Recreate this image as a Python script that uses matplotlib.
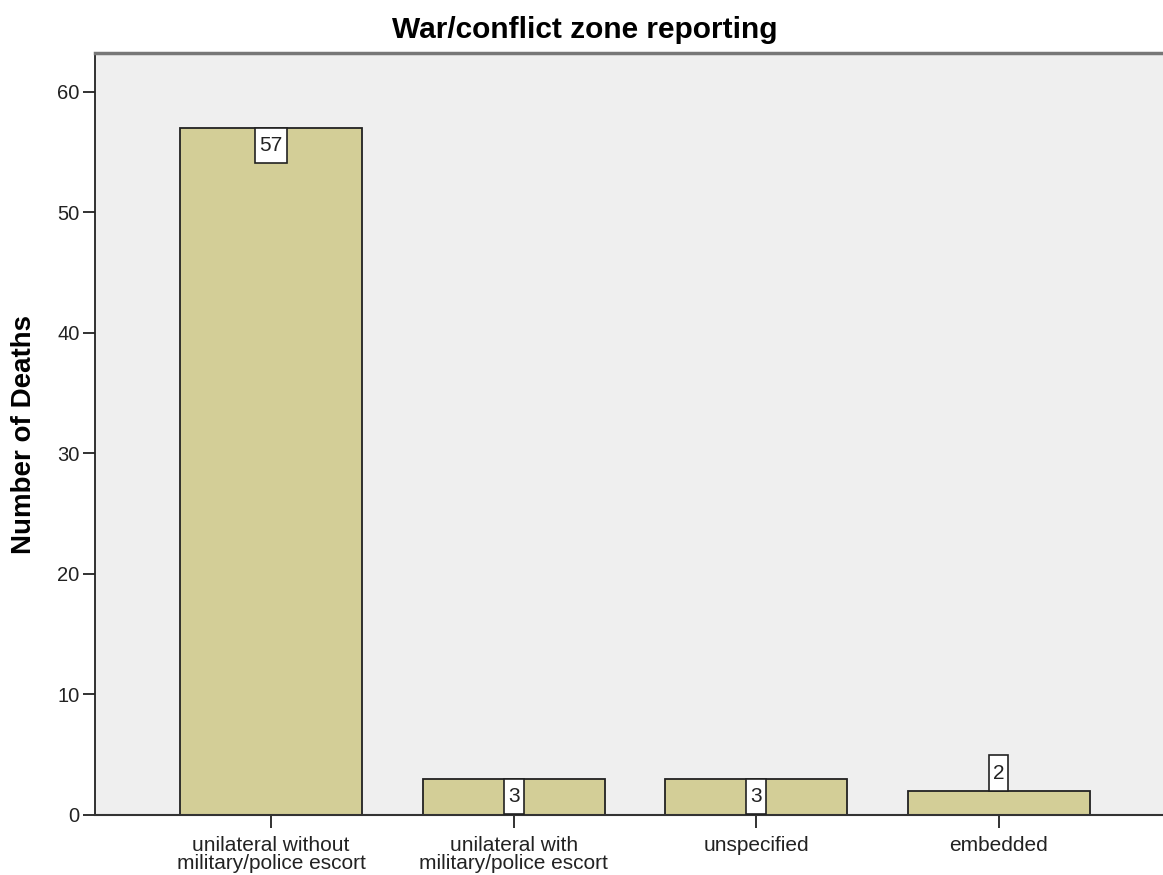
import matplotlib
matplotlib.use("Agg")
import matplotlib.pyplot as plt
from matplotlib.path import Path

categories = ["unilateral without\nmilitary/police escort",
              "unilateral with\nmilitary/police escort",
              "unspecified",
              "embedded"]
deaths = [57, 3, 3, 2]
label_inside = [True, True, True, False]
yticks = [0, 10, 20, 30, 40, 50, 60]

plt.rcParams['font.family'] = ['Liberation Sans', 'DejaVu Sans']

PADX, PADY = 0.2, 0.4


def tall_box(x0, y0, width, height, mutation_size):
    px = PADX * mutation_size
    py = PADY * mutation_size
    xa, xb = x0 - px, x0 + width + px
    ya, yb = y0 - py, y0 + height + py
    return Path([(xa, ya), (xb, ya), (xb, yb), (xa, yb), (xa, ya)],
                [Path.MOVETO, Path.LINETO, Path.LINETO, Path.LINETO, Path.CLOSEPOLY])


W, H = 1163, 875
fig = plt.figure(figsize=(W/100, H/100), dpi=100)
ax = fig.add_axes([95/W, 1 - 815/H, 1 - 95/W, (815-53)/H])
ax.set_facecolor('#EFEFEF')

x = list(range(len(categories)))
ax.bar(x, deaths, width=0.75, color='#D3CE97', edgecolor='#222222', linewidth=1.3, zorder=2)

ax.set_xlim(-0.726, 3.678)
ax.set_ylim(0, 63.2)
ax.set_yticks(yticks)
ax.set_xticks(x)
ax.set_xticklabels(categories, fontsize=15, color='#222222', linespacing=0.95)
ax.tick_params(axis='y', labelsize=14.5, length=9, width=1.3, colors='#222222', pad=2)
ax.tick_params(axis='x', length=9, width=1.3, colors='#222222', pad=6)

ax.spines['right'].set_visible(False)
ax.spines['top'].set_color('#777777')
ax.spines['top'].set_linewidth(2.5)
ax.spines['left'].set_color('#222222')
ax.spines['left'].set_linewidth(1.3)
ax.spines['bottom'].set_color('#333333')
ax.spines['bottom'].set_linewidth(1.5)

fs = 15
for xi, v, inside in zip(x, deaths, label_inside):
    off = -PADY * fs if inside else PADY * fs
    ax.annotate(str(v), (xi, v), xytext=(0, off), textcoords='offset points',
                ha='center', va='top' if inside else 'bottom', fontsize=fs,
                color='#222222', zorder=3,
                bbox=dict(boxstyle=tall_box, fc='white', ec='#222222', lw=1.2))

fig.text(24/W, 1 - 435/H, "Number of Deaths", rotation=90, ha='center', va='center',
         fontsize=20, fontweight='bold')
fig.text(585/W, 1 - 30/H, "War/conflict zone reporting", ha='center', va='center',
         fontsize=21.5, fontweight='bold')

fig.savefig("out.png", dpi=100)
